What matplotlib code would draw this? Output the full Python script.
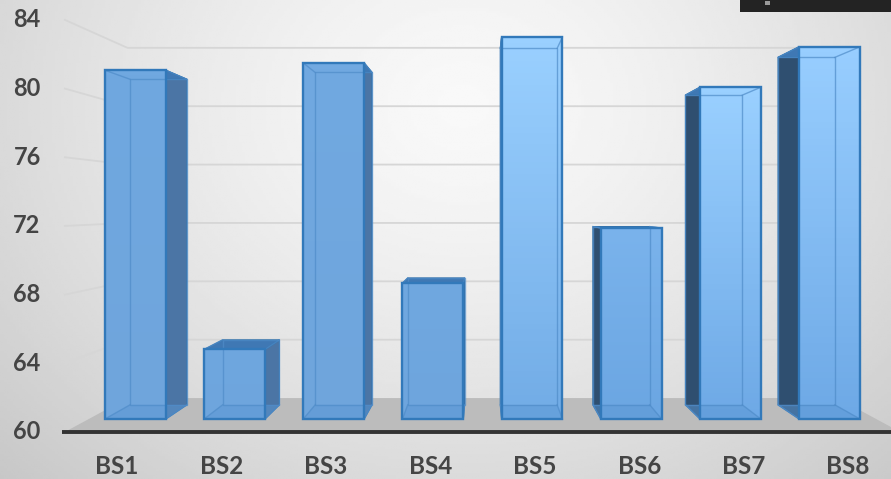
#! /usr/bin/python3
import numpy as np
import matplotlib
matplotlib.use("Agg")
import matplotlib.pyplot as plt
from matplotlib.patches import Polygon, Rectangle
from matplotlib.colors import LinearSegmentedColormap

# chart values
categories = ["BS1", "BS2", "BS3", "BS4", "BS5", "BS6", "BS7", "BS8"]
values = [81.55, 64.3, 82.0, 68.4, 83.6, 71.8, 80.5, 83.0]
y_ticks = [60, 64, 68, 72, 76, 80, 84]

# face colours of each bar (top and bottom of the gradient)
top_colors = ["#70a8e0", "#6fa7df", "#71a9e1", "#70a8e0", "#9ad0ff", "#7ab3ec", "#9ad0ff", "#98ceff"]
bottom_colors = ["#6fa5dc", "#6ea5dd", "#6fa5dc", "#6ea5dd", "#72ace6", "#6ba6e2", "#6ea9e6", "#6ea9e6"]

# 3d look: every point is scaled towards a vanishing point
VANISH_X, VANISH_Y = 3.495, 73.16
BAR_FRONT, BAR_BACK, WALL = 0.9425, 0.88, 0.85
BAR_HALF = 0.307
BASE = 60
WALL_LEFT, WALL_RIGHT = -0.47, 7.47
LABEL_COLOR = "#454545"


def project(x, y, depth):
    """scale a point of the front plane towards the vanishing point"""
    return (VANISH_X + depth * (x - VANISH_X), VANISH_Y + depth * (y - VANISH_Y))


def draw_bar(ax, pos, value, top, bottom):
    """draw one translucent box with a gradient front face"""
    left, right = pos - BAR_HALF, pos + BAR_HALF
    fl_b = project(left, BASE, BAR_FRONT)
    fr_b = project(right, BASE, BAR_FRONT)
    fr_t = project(right, value, BAR_FRONT)
    fl_t = project(left, value, BAR_FRONT)
    bl_b = project(left, BASE, BAR_BACK)
    br_b = project(right, BASE, BAR_BACK)
    br_t = project(right, value, BAR_BACK)
    bl_t = project(left, value, BAR_BACK)

    # front face with vertical gradient, clipped to the box
    cmap = LinearSegmentedColormap.from_list("face", [bottom, top])
    img = ax.imshow(np.linspace(0, 1, 64).reshape(-1, 1), cmap=cmap, origin="lower", aspect="auto",
                    extent=(fl_b[0], fr_b[0], fl_b[1], fl_t[1]), zorder=4)
    img.set_clip_path(Rectangle(fl_b, fr_b[0] - fl_b[0], fl_t[1] - fl_b[1], transform=ax.transData))

    # dark outer side, on the side turned to the viewer
    if pos < VANISH_X:
        side = [fr_b, br_b, br_t, fr_t]
        side_color = "#4b75a5"
    else:
        side = [fl_b, bl_b, bl_t, fl_t]
        side_color = "#2f4f70"
    ax.add_patch(Polygon(side, closed=True, facecolor=side_color, edgecolor="#2f6fa8", lw=0.8, zorder=3))

    # floor of the box and top of the box
    ax.add_patch(Polygon([fl_t, fr_t, br_t, bl_t], closed=True, facecolor="#3f78b4", edgecolor="#2f6fa8",
                         lw=0.8, zorder=5 if value < VANISH_Y else 3))
    ax.add_patch(Polygon([fl_b, fr_b, br_b, bl_b], closed=True, facecolor="#5c97d4", alpha=0.5, lw=0, zorder=5))

    # inner edges seen through the front face
    inner = [bl_b, br_b, br_t, bl_t]
    ax.add_patch(Polygon(inner, closed=True, fill=False, edgecolor="#4f8cc9", lw=1.0, alpha=0.7, zorder=5))
    for a, b in [(fl_b, bl_b), (fr_b, br_b), (fl_t, bl_t), (fr_t, br_t)]:
        ax.plot([a[0], b[0]], [a[1], b[1]], color="#4f8cc9", lw=1.0, alpha=0.7, zorder=5)

    # strong outline of the front face
    ax.add_patch(Polygon([fl_b, fr_b, fr_t, fl_t], closed=True, fill=False, edgecolor="#3279ba", lw=1.7, zorder=6))


def main():
    fig = plt.figure(figsize=(8.91, 4.79), dpi=100)
    ax = fig.add_axes([0, 0, 1, 1])
    x_lim = (-1.0868, 7.3831)
    y_lim = (57.26, 85.16)

    # background shading, lightest near the top centre
    gx, gy = np.meshgrid(np.linspace(0, 1, 300), np.linspace(0, 1, 200))
    r = np.sqrt(((gx - 0.52) / 0.62) ** 2 + ((gy - 0.22) / 0.95) ** 2)
    shade = np.clip(0.975 - 0.155 * r ** 1.4, 0, 1)
    ax.imshow(shade, cmap="gray", vmin=0, vmax=1, origin="upper", aspect="auto",
              extent=(x_lim[0], x_lim[1], y_lim[0], y_lim[1]), zorder=0)

    # floor of the chart
    floor = [project(WALL_LEFT, BASE, 1), project(WALL_LEFT, BASE, WALL),
             project(WALL_RIGHT, BASE, WALL), project(WALL_RIGHT, BASE, 1)]
    ax.add_patch(Polygon(floor, closed=True, facecolor="#bcbcbc", lw=0, zorder=1))

    # gridlines on the back wall and along the left wall
    for tick in y_ticks[1:]:
        a = project(WALL_LEFT, tick, 1)
        b = project(WALL_LEFT, tick, WALL)
        c = project(WALL_RIGHT, tick, WALL)
        ax.plot([a[0], b[0], c[0]], [a[1], b[1], c[1]], color="#d6d6d6", lw=1.3, zorder=2)

    for i, value in enumerate(values):
        draw_bar(ax, i, value, top_colors[i], bottom_colors[i])

    # category axis line
    ax.plot([-0.5, x_lim[1]], [BASE, BASE], color="#333333", lw=2.8, zorder=7, solid_capstyle="butt")

    # labels
    for tick in y_ticks:
        ax.text(-0.83, tick, str(tick), ha="center", va="center", family="Lato", fontweight="bold",
                fontsize=17, color=LABEL_COLOR, zorder=8)
    for i, name in enumerate(categories):
        ax.text(3.5 + (i - 3.5) * 0.993, 58.0, name, ha="center", va="center", family="Lato", fontweight="bold",
                fontsize=17.5, color=LABEL_COLOR, zorder=8)

    # dark strip left in the top right corner of the screenshot
    ax.add_patch(Rectangle((740 / 891, 1 - 12 / 479), 151 / 891, 12 / 479, transform=ax.transAxes,
                           facecolor="#232323", lw=0, zorder=9))
    ax.add_patch(Rectangle((765 / 891, 1 - 5 / 479), 5 / 891, 4 / 479, transform=ax.transAxes,
                           facecolor="#9a9a9a", lw=0, zorder=10))

    ax.set_xlim(*x_lim)
    ax.set_ylim(*y_lim)
    ax.axis("off")
    fig.savefig("out.png", dpi=100)


if __name__ == "__main__":
    main()
